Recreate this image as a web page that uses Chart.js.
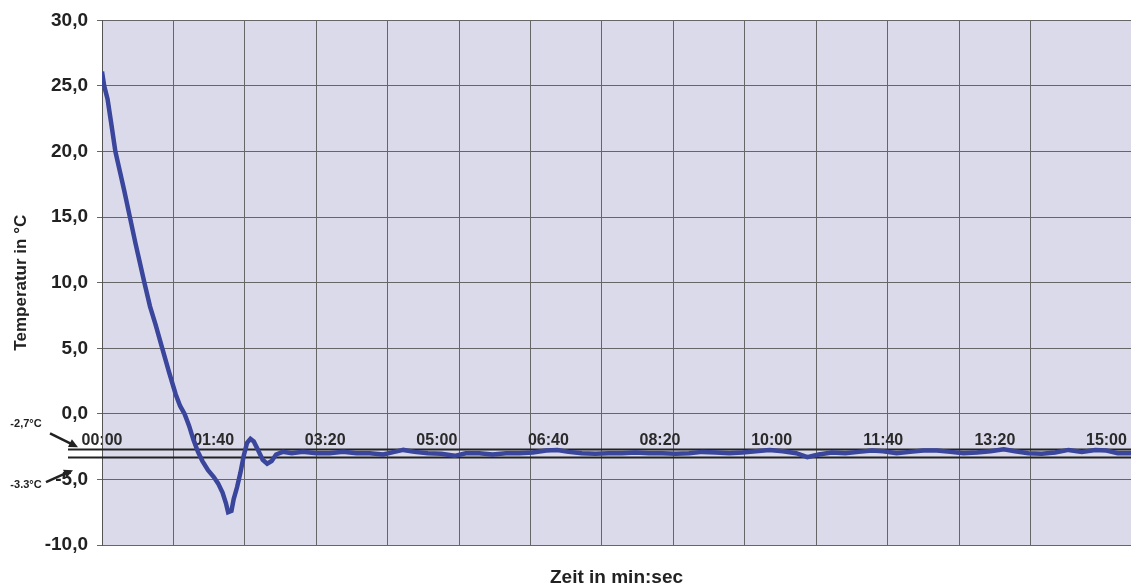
<!DOCTYPE html>
<html>
<head>
<meta charset="utf-8">
<script src="https://cdn.jsdelivr.net/npm/chart.js@4.4.1/dist/chart.umd.min.js"></script>
<style>
  html, body { margin: 0; padding: 0; background: #fff; }
  #wrap { width: 1131px; height: 587px; }
</style>
</head>
<body>
<div id="wrap"><canvas id="tempChart"></canvas></div>
<script>
// Messwerte (Zeit in Sekunden, Temperatur in °C)
const zeit = [0, 2, 5, 8, 12, 16, 20, 25, 30, 34, 38, 43, 48, 54, 60, 66, 70, 74, 78, 82, 86, 90, 95, 100, 104, 108, 111, 113, 116, 118, 121, 124, 127, 130, 133, 136, 140, 144, 148, 152, 156, 162,
  170, 180, 192, 204, 216, 228, 240, 252, 262, 270, 280, 292, 304, 316, 326, 338, 350, 362, 374, 386, 398, 408, 418, 430, 442, 454, 466, 478, 490, 502, 514, 526, 538, 550, 562, 574, 586, 598, 610, 622, 632, 642, 654, 666, 678, 690, 700, 712, 724, 736, 748, 760, 772, 784, 796, 808, 818, 830, 842, 854, 866, 878, 890, 900, 910, 922];
const temperatur = [26.1, 25.0, 24.0, 22.3, 20.0, 18.5, 17.0, 15.0, 13.0, 11.5, 10.0, 8.2, 6.8, 5.0, 3.2, 1.5, 0.6, 0.0, -0.9, -2.0, -2.9, -3.6, -4.3, -4.8, -5.3, -6.0, -6.8, -7.5, -7.4, -6.5, -5.6, -4.5, -3.2, -2.2, -1.9, -2.1, -2.8, -3.5, -3.8, -3.6, -3.1, -2.9,
  -3.0, -2.9, -3.0, -3.0, -2.9, -3.0, -3.0, -3.1, -2.9, -2.75, -2.9, -3.0, -3.05, -3.2, -3.0, -3.0, -3.1, -3.0, -3.0, -2.95, -2.8, -2.75, -2.9, -3.0, -3.05, -3.0, -3.0, -2.95, -3.0, -3.0, -3.05, -3.0, -2.9, -2.95, -3.0, -2.95, -2.85, -2.75, -2.85, -3.0, -3.3, -3.1, -2.95, -3.0, -2.9, -2.8, -2.85, -3.0, -2.9, -2.8, -2.8, -2.9, -3.0, -2.95, -2.85, -2.7, -2.85, -3.0, -3.05, -2.95, -2.75, -2.9, -2.75, -2.8, -3.0, -3.0];

// Grenzwerte
const grenzen = [-2.7, -3.3];
const grenzLabels = ['-2,7°C', '-3.3°C'];

// Achsen
const zeitMax = 922;
const gitterSchritt = 64;
const labelSchritt = 100;
const yMin = -10, yMax = 30, yStep = 5;

const fontFam = '"Liberation Sans", Arial, sans-serif';

function mmss(s) {
  const m = Math.floor(s / 60), r = Math.round(s % 60);
  return String(m).padStart(2, '0') + ':' + String(r).padStart(2, '0');
}

// Hintergrund der Zeichenfläche + Grenzlinien mit Pfeilen
const deko = {
  id: 'deko',
  beforeDraw(chart) {
    const a = chart.chartArea, ctx = chart.ctx;
    ctx.save();
    ctx.fillStyle = '#dbdaea';
    ctx.fillRect(a.left, a.top, a.right - a.left, a.bottom - a.top);
    ctx.restore();
  },
  beforeDatasetsDraw(chart) {
    const a = chart.chartArea, ctx = chart.ctx, y = chart.scales.y;
    ctx.save();
    ctx.strokeStyle = '#222';
    ctx.lineWidth = 2;
    grenzen.forEach(g => {
      const py = Math.round(y.getPixelForValue(g)) + 0.5;
      ctx.beginPath();
      ctx.moveTo(a.left - 34, py);
      ctx.lineTo(a.right, py);
      ctx.stroke();
    });
    // Beschriftungen + Pfeile
    ctx.fillStyle = '#222';
    ctx.font = 'bold 11px ' + fontFam;
    ctx.textAlign = 'center';
    ctx.textBaseline = 'middle';
    const p0 = y.getPixelForValue(grenzen[0]), p1 = y.getPixelForValue(grenzen[1]);
    ctx.fillText(grenzLabels[0], 26, p0 - 25);
    ctx.fillText(grenzLabels[1], 26, p1 + 28);
    const pfeil = (x1, y1, x2, y2) => {
      const ang = Math.atan2(y2 - y1, x2 - x1);
      ctx.lineWidth = 2.5;
      ctx.beginPath();
      ctx.moveTo(x1, y1);
      ctx.lineTo(x2 - 7 * Math.cos(ang), y2 - 7 * Math.sin(ang));
      ctx.stroke();
      ctx.beginPath();
      ctx.moveTo(x2, y2);
      ctx.lineTo(x2 - 10 * Math.cos(ang - 0.45), y2 - 10 * Math.sin(ang - 0.45));
      ctx.lineTo(x2 - 10 * Math.cos(ang + 0.45), y2 - 10 * Math.sin(ang + 0.45));
      ctx.closePath();
      ctx.fill();
    };
    pfeil(a.left - 52, p0 - 16, a.left - 24, p0 - 2);
    pfeil(a.left - 56, p1 + 25, a.left - 29, p1 + 13);
    ctx.restore();
  }
};

new Chart(document.getElementById('tempChart'), {
  type: 'line',
  data: {
    datasets: [{
      data: zeit.map((t, i) => ({ x: t, y: temperatur[i] })),
      borderColor: '#3a459c',
      borderWidth: 4.5,
      pointRadius: 0,
      tension: 0,
      fill: false
    }]
  },
  options: {
    responsive: true,
    maintainAspectRatio: false,
    animation: false,
    layout: { padding: { left: 8, top: 17, right: 0, bottom: 0 } },
    plugins: { legend: { display: false }, tooltip: { enabled: false } },
    scales: {
      x: {
        type: 'linear',
        position: 'bottom',
        min: 0,
        max: zeitMax,
        grid: { color: '#666', lineWidth: 1, drawTicks: false },
        border: { display: false },
        ticks: { display: false, stepSize: gitterSchritt, padding: 0 },
        title: {
          display: true,
          text: 'Zeit in min:sec',
          color: '#222',
          font: { family: fontFam, size: 19, weight: 'bold', lineHeight: 1 },
          padding: { top: 23, bottom: 0 }
        }
      },
      xLabels: {
        type: 'linear',
        axis: 'x',
        position: { y: 0 },
        min: 0,
        max: zeitMax,
        grid: { display: false, drawTicks: false },
        border: { display: false },
        ticks: {
          stepSize: labelSchritt,
          includeBounds: false,
          padding: 0,
          maxRotation: 0,
          autoSkip: false,
          color: '#2a2a2a',
          font: { family: fontFam, size: 16, weight: 'bold', lineHeight: 3.35 },
          callback: v => mmss(v)
        }
      },
      y: {
        min: yMin,
        max: yMax,
        grid: { color: '#666', lineWidth: 1, tickLength: 5 },
        border: { color: '#555', width: 1 },
        afterFit(scale) { scale.width = 94; },
        ticks: {
          stepSize: yStep,
          padding: 9,
          color: '#222',
          font: { family: fontFam, size: 19, weight: 'bold' },
          callback: v => v.toFixed(1).replace('.', ',')
        },
        title: {
          display: true,
          text: 'Temperatur in °C',
          color: '#222',
          font: { family: fontFam, size: 17, weight: 'bold' },
          padding: { top: 3, bottom: 4 }
        }
      }
    }
  },
  plugins: [deko]
});
</script>
</body>
</html>
